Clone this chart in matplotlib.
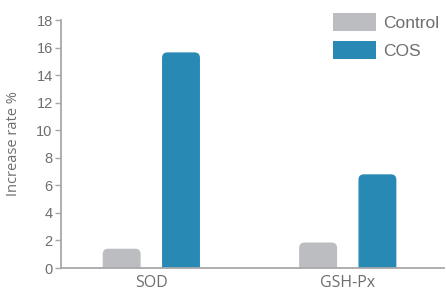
import matplotlib
matplotlib.use("Agg")
import matplotlib.pyplot as plt
from matplotlib.patches import FancyBboxPatch, Patch

categories = ["SOD", "GSH-Px"]
series_names = ["Control", "COS"]
control = [1.4, 1.85]
cos = [15.65, 6.8]
yticks = [0, 2, 4, 6, 8, 10, 12, 14, 16, 18]

colors = ["#bcbdc0", "#2889b4"]
axis_col = "#a8a8ab"
text_col = "#6d6e71"

plt.rcParams["font.family"] = ["Liberation Sans", "DejaVu Sans"]

fig = plt.figure(figsize=(4.46, 2.93), dpi=100)
ax = fig.add_axes([61 / 446, 1 - 268 / 293, 383 / 446, 248 / 293])

x = list(range(len(categories)))
width = 0.193
offset = 0.151
# px -> data scale, used for rounding the bar tops
aspect = (18 / 248) / (1.95 / 383)

for vals, off, col, name in [(control, -offset, colors[0], series_names[0]),
                             (cos, offset, colors[1], series_names[1])]:
    bars = ax.bar([i + off for i in x], vals, width, color=col, label=name)
    for b in bars:
        b.set_visible(False)
        p = FancyBboxPatch((b.get_x(), -1), b.get_width(), b.get_height() + 1,
                           boxstyle="round,pad=0,rounding_size=0.028",
                           mutation_aspect=aspect, fc=col, ec="none")
        ax.add_patch(p)

ax.set_xlim(-0.46, 1.49)
ax.set_ylim(0, 18)
ax.set_yticks(yticks)
ax.set_xticks(x)
ax.set_xticklabels(categories, fontsize=11.5, family=["Open Sans", "DejaVu Sans"])
ax.tick_params(axis="x", length=0, pad=5, colors=text_col)
ax.tick_params(axis="y", length=4, width=1, color=axis_col, labelcolor=text_col,
               labelsize=10.5, pad=2)
for s in ["top", "right"]:
    ax.spines[s].set_visible(False)
for s in ["left", "bottom"]:
    ax.spines[s].set_color(axis_col)
    ax.spines[s].set_linewidth(1.3)
ax.set_ylabel("Increase rate %", fontsize=10.5, color=text_col,
              family=["Open Sans", "DejaVu Sans"], labelpad=11)

handles = [Patch(fc=colors[0]), Patch(fc=colors[1])]
leg = ax.legend(handles, series_names, loc="upper left",
                bbox_to_anchor=(333 / 446, 1 - 13 / 293), bbox_transform=fig.transFigure,
                frameon=False, fontsize=12.5, handlelength=2.5, handleheight=1.2,
                handletextpad=0.4, labelspacing=0.6, borderpad=0, borderaxespad=0)
for t in leg.get_texts():
    t.set_color(text_col)

fig.savefig("out.png", dpi=100)
